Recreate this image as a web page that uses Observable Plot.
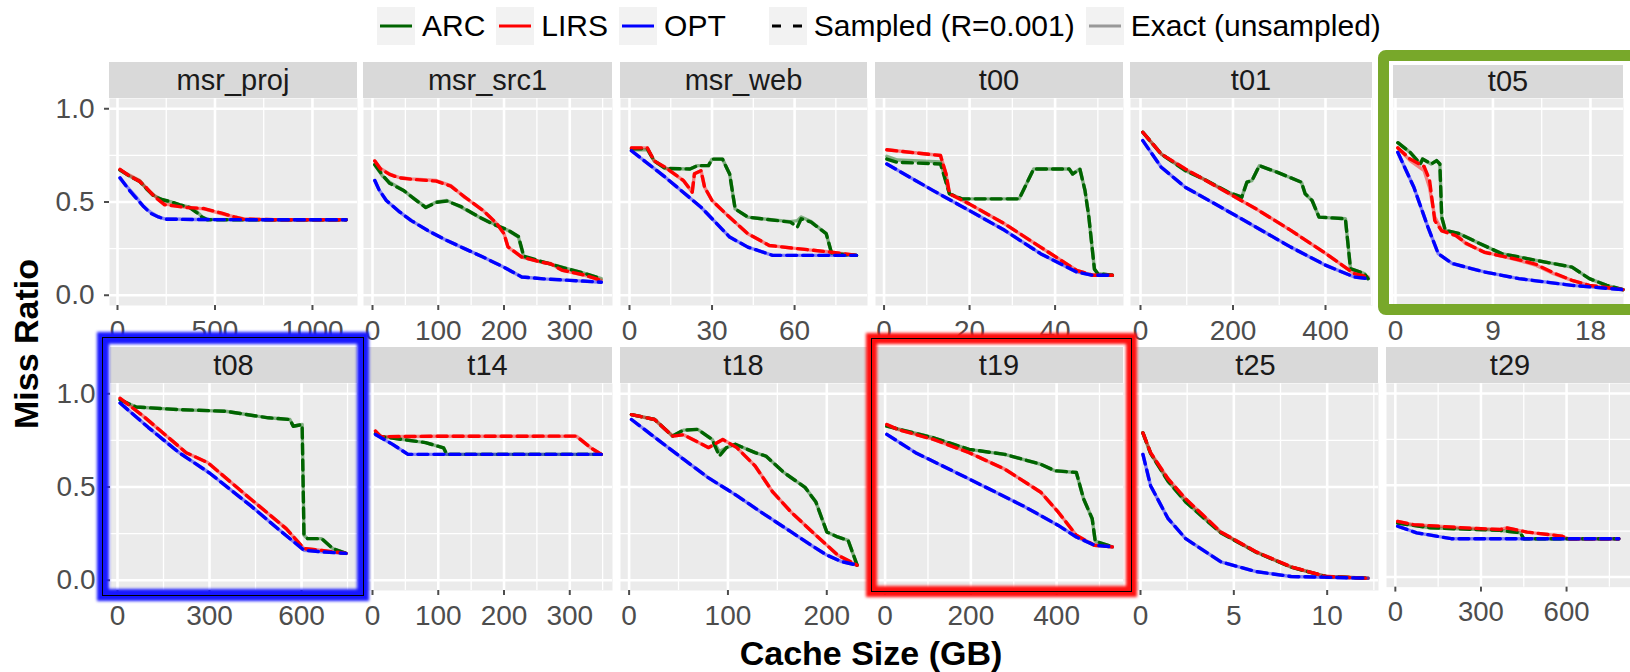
<!DOCTYPE html>
<html>
<head>
<meta charset="utf-8">
<script src="https://cdn.jsdelivr.net/npm/d3@7"></script>
<script src="https://cdn.jsdelivr.net/npm/@observablehq/plot@0.6"></script>
<style>
  html, body { margin: 0; padding: 0; background: #fff; }
  body { width: 1630px; height: 672px; overflow: hidden; position: relative;
         font-family: "Liberation Sans", Arial, Helvetica, sans-serif; }
  .abs { position: absolute; }
  .strip { position: absolute; background: #D9D9D9; color: #1a1a1a; font-size: 29px;
           display: flex; align-items: center; justify-content: center; line-height: 1; }
  .plotwrap { position: absolute; }
</style>
</head>
<body>
<script>
// ---------------- DATA ----------------
const panels = ["msr_proj","msr_src1","msr_web","t00","t01","t05","t08","t14","t18","t19","t25","t29"];
const algorithms = ["ARC","LIRS","OPT"];
const linetypes = ["Sampled (R=0.001)","Exact (unsampled)"];
const xTicks = [[0,500,1000],[0,100,200,300],[0,30,60],[0,20,40],[0,200,400],[0,9,18],
                [0,300,600],[0,100,200,300],[0,100,200],[0,200,400],[0,5,10],[0,300,600]];
const yTicks = [0, 0.5, 1.0];

// rows: [cache size GB, exact miss ratio, sampled miss ratio]
const msr_proj_ARC = [[13,0.67,0.672],[60,0.64,0.64],[114,0.612,0.61],[150,0.57,0.57],[188,0.535,0.53],[233,0.51,0.512],[278,0.50,0.50],[320,0.485,0.485],[370,0.472,0.47],[410,0.445,0.44],[435,0.42,0.418],[460,0.407,0.405],[800,0.405,0.405],[1173,0.405,0.405]];
const msr_proj_LIRS = [[13,0.672,0.675],[60,0.645,0.64],[114,0.615,0.61],[150,0.57,0.575],[188,0.535,0.53],[242,0.49,0.485],[300,0.48,0.478],[352,0.472,0.47],[444,0.463,0.465],[535,0.437,0.44],[600,0.42,0.42],[645,0.41,0.408],[800,0.405,0.405],[1173,0.405,0.405]];
const msr_proj_OPT = [[13,0.626,0.63],[55,0.575,0.57],[96,0.526,0.52],[130,0.48,0.48],[169,0.445,0.44],[210,0.42,0.42],[242,0.41,0.408],[400,0.406,0.406],[700,0.405,0.405],[1000,0.405,0.405],[1173,0.405,0.405]];

const msr_src1_ARC = [[3.5,0.70,0.70],[15,0.64,0.645],[26,0.606,0.60],[48,0.56,0.56],[64,0.517,0.515],[81,0.472,0.47],[97,0.50,0.498],[113,0.508,0.505],[135,0.472,0.475],[162,0.419,0.42],[184,0.383,0.38],[206,0.348,0.35],[222,0.312,0.315],[230,0.205,0.21],[256,0.18,0.182],[288,0.151,0.15],[320,0.12,0.12],[348,0.089,0.088]];
const msr_src1_LIRS = [[3.5,0.72,0.72],[12,0.68,0.678],[26,0.65,0.648],[40,0.632,0.63],[59,0.624,0.622],[97,0.615,0.612],[119,0.588,0.585],[140,0.526,0.528],[168,0.455,0.455],[189,0.383,0.385],[200,0.33,0.33],[206,0.258,0.26],[227,0.205,0.205],[256,0.178,0.178],[271,0.17,0.168],[288,0.134,0.135],[320,0.11,0.11],[348,0.08,0.08]];
const msr_src1_OPT = [[3.5,0.615,0.615],[10,0.565,0.565],[21,0.508,0.508],[40,0.45,0.45],[59,0.40,0.40],[85,0.345,0.345],[113,0.294,0.294],[140,0.25,0.25],[168,0.205,0.205],[200,0.15,0.15],[227,0.098,0.098],[260,0.088,0.088],[300,0.08,0.08],[348,0.07,0.07]];

const msr_web_ARC = [[0.7,0.78,0.785],[6.5,0.78,0.785],[9,0.72,0.72],[13,0.68,0.68],[22,0.677,0.677],[24.7,0.695,0.695],[28.7,0.695,0.695],[30,0.73,0.73],[33.8,0.73,0.73],[36.4,0.65,0.65],[38.4,0.463,0.463],[43,0.419,0.419],[48,0.41,0.41],[58.5,0.395,0.392],[61,0.40,0.365],[62.4,0.42,0.41],[66,0.395,0.392],[71.5,0.33,0.33],[73.5,0.223,0.223],[82.5,0.214,0.214]];
const msr_web_LIRS = [[0.7,0.79,0.79],[6.5,0.79,0.79],[9,0.72,0.72],[13,0.686,0.686],[19.6,0.615,0.615],[22.8,0.553,0.553],[23.6,0.651,0.651],[26,0.668,0.668],[27.3,0.579,0.579],[30,0.508,0.508],[35,0.437,0.437],[43,0.33,0.33],[50.8,0.267,0.267],[61,0.25,0.25],[72.7,0.232,0.232],[82.5,0.214,0.214]];
const msr_web_OPT = [[0.7,0.775,0.775],[13,0.633,0.633],[26,0.472,0.472],[36.4,0.312,0.312],[43,0.258,0.258],[52,0.214,0.214],[65,0.214,0.214],[82.5,0.214,0.214]];

const t00_ARC = [[0.65,0.745,0.73],[3.1,0.725,0.713],[13.2,0.715,0.704],[15.3,0.544,0.544],[18.2,0.517,0.517],[31.6,0.517,0.517],[33.3,0.597,0.597],[35,0.677,0.677],[43.3,0.677,0.677],[44.1,0.65,0.65],[45.8,0.677,0.677],[47,0.561,0.561],[47.9,0.419,0.419],[49.2,0.14,0.14],[50,0.116,0.116],[53.4,0.107,0.107]];
const t00_LIRS = [[0.65,0.78,0.78],[13.2,0.749,0.749],[14.5,0.65,0.65],[15.3,0.544,0.544],[19.9,0.49,0.49],[28.2,0.383,0.383],[36.6,0.258,0.258],[45,0.134,0.134],[48.8,0.107,0.107],[53.4,0.107,0.107]];
const t00_OPT = [[0.65,0.704,0.704],[11.5,0.561,0.561],[19.9,0.455,0.455],[28.2,0.348,0.348],[36.6,0.223,0.223],[45,0.125,0.125],[48.8,0.107,0.107],[53.4,0.107,0.107]];

const t01_ARC = [[5,0.874,0.874],[45,0.757,0.757],[97,0.668,0.668],[136,0.624,0.624],[189,0.553,0.553],[219,0.526,0.526],[230,0.606,0.606],[241,0.615,0.615],[257,0.695,0.695],[295,0.66,0.66],[348,0.606,0.606],[356,0.544,0.544],[371,0.508,0.508],[386,0.419,0.419],[443,0.41,0.41],[454,0.143,0.143],[484,0.116,0.116],[492,0.089,0.089]];
const t01_LIRS = [[5,0.874,0.874],[45,0.757,0.757],[97,0.677,0.677],[174,0.57,0.57],[250,0.463,0.463],[325,0.348,0.348],[401,0.223,0.223],[462,0.116,0.116],[492,0.098,0.098]];
const t01_OPT = [[5,0.829,0.829],[45,0.686,0.686],[97,0.579,0.579],[174,0.472,0.472],[250,0.365,0.365],[325,0.258,0.258],[401,0.16,0.16],[462,0.098,0.098],[492,0.089,0.089]];

const t05_ARC = [[0.22,0.818,0.818],[1.36,0.766,0.766],[2.3,0.704,0.704],[2.5,0.73,0.73],[3.3,0.704,0.704],[3.8,0.722,0.722],[4.1,0.704,0.704],[4.27,0.419,0.419],[4.6,0.348,0.348],[5.9,0.33,0.33],[7.5,0.285,0.285],[9.8,0.223,0.223],[13,0.187,0.187],[16.3,0.151,0.151],[17.9,0.089,0.089],[19.5,0.053,0.053],[21,0.03,0.03]];
const t05_LIRS = [[0.22,0.791,0.79],[1.36,0.722,0.73],[2.65,0.668,0.69],[3.14,0.579,0.62],[3.63,0.419,0.40],[4.27,0.348,0.345],[5.57,0.33,0.32],[6.5,0.276,0.28],[8.2,0.232,0.23],[11.4,0.187,0.19],[13,0.16,0.165],[14.6,0.116,0.12],[16.3,0.08,0.08],[17.9,0.053,0.053],[21,0.03,0.03]];
const t05_OPT = [[0.22,0.766,0.766],[1.7,0.579,0.579],[3,0.365,0.365],[3.95,0.223,0.223],[5.25,0.17,0.17],[8.2,0.125,0.125],[11.4,0.089,0.089],[16.3,0.053,0.053],[21,0.03,0.03]];

const t08_ARC = [[8.5,0.967,0.967],[61,0.929,0.929],[201,0.915,0.915],[352,0.906,0.906],[492,0.871,0.871],[562,0.862,0.862],[573,0.826,0.826],[602,0.835,0.835],[608,0.241,0.241],[620,0.223,0.223],[666,0.223,0.223],[702,0.17,0.17],[745,0.144,0.144]];
const t08_LIRS = [[8.5,0.976,0.976],[84,0.88,0.88],[224,0.684,0.684],[294,0.631,0.631],[434,0.436,0.436],[550,0.277,0.277],[608,0.17,0.17],[666,0.16,0.16],[745,0.144,0.144]];
const t08_OPT = [[8.5,0.95,0.95],[100,0.82,0.82],[201,0.684,0.684],[300,0.575,0.575],[434,0.40,0.40],[520,0.28,0.28],[608,0.161,0.161],[666,0.152,0.152],[745,0.144,0.144]];

const t14_ARC = [[4.6,0.787,0.787],[13.6,0.77,0.77],[80.7,0.738,0.738],[108,0.71,0.71],[113,0.675,0.675],[250,0.675,0.675],[348,0.675,0.675]];
const t14_LIRS = [[4.6,0.80,0.80],[12.7,0.77,0.77],[100,0.772,0.772],[200,0.772,0.772],[310,0.773,0.773],[332,0.71,0.71],[348,0.675,0.675]];
const t14_OPT = [[4.6,0.782,0.782],[30,0.73,0.73],[54,0.675,0.675],[150,0.675,0.675],[250,0.675,0.675],[348,0.675,0.675]];

const t18_ARC = [[2.4,0.888,0.888],[25.8,0.862,0.862],[44,0.773,0.773],[55,0.805,0.805],[69.5,0.809,0.809],[84,0.755,0.755],[91.3,0.69,0.666],[98.5,0.711,0.711],[107.5,0.729,0.729],[127.5,0.684,0.684],[138.4,0.666,0.666],[156.5,0.578,0.578],[178,0.498,0.498],[189,0.419,0.419],[200,0.259,0.259],[211,0.232,0.232],[221.6,0.214,0.214],[230.7,0.081,0.081]];
const t18_LIRS = [[2.4,0.888,0.888],[25.8,0.862,0.862],[44,0.773,0.773],[55,0.78,0.78],[80.5,0.711,0.711],[94.8,0.755,0.755],[109,0.711,0.711],[127.5,0.613,0.613],[145.5,0.472,0.472],[164,0.365,0.365],[189,0.241,0.241],[211,0.135,0.135],[230.7,0.081,0.081]];
const t18_OPT = [[2.4,0.862,0.862],[30,0.75,0.75],[55,0.649,0.649],[80,0.55,0.55],[109,0.454,0.454],[135,0.36,0.36],[164,0.259,0.259],[185,0.185,0.185],[200,0.135,0.135],[215,0.10,0.10],[230.7,0.081,0.081]];

const t19_ARC = [[4,0.826,0.826],[113,0.764,0.764],[196,0.702,0.702],[279,0.675,0.675],[363,0.622,0.622],[396,0.587,0.587],[446,0.578,0.578],[463,0.436,0.436],[483,0.33,0.33],[490,0.21,0.21],[530,0.179,0.179]];
const t19_LIRS = [[4,0.835,0.835],[29,0.809,0.809],[113,0.755,0.755],[196,0.684,0.684],[279,0.596,0.596],[363,0.472,0.472],[404,0.365,0.365],[446,0.241,0.241],[488,0.188,0.188],[530,0.179,0.179]];
const t19_OPT = [[4,0.782,0.782],[71,0.684,0.684],[196,0.543,0.543],[321,0.40,0.40],[404,0.294,0.294],[446,0.232,0.232],[488,0.188,0.188],[530,0.179,0.179]];

const t25_ARC = [[0.13,0.79,0.79],[0.54,0.68,0.68],[1.48,0.53,0.53],[2.42,0.42,0.42],[3.37,0.335,0.335],[4.3,0.255,0.255],[6.2,0.15,0.15],[8.07,0.07,0.07],[9.94,0.02,0.02],[12.2,0.011,0.011]];
const t25_LIRS = [[0.13,0.79,0.79],[0.54,0.684,0.684],[1.48,0.543,0.543],[2.42,0.436,0.436],[3.37,0.347,0.347],[4.3,0.259,0.259],[6.2,0.152,0.152],[8.07,0.072,0.072],[9.94,0.02,0.02],[12.2,0.011,0.011]];
const t25_OPT = [[0.13,0.675,0.675],[0.54,0.507,0.507],[1.48,0.33,0.33],[2.42,0.223,0.223],[4.3,0.099,0.099],[6.2,0.046,0.046],[8.07,0.02,0.02],[12.2,0.011,0.011]];

const t29_ARC = [[8,0.294,0.294],[123,0.268,0.268],[365,0.255,0.255],[438,0.241,0.241],[450,0.209,0.209],[783,0.209,0.209]];
const t29_LIRS = [[8,0.303,0.303],[63,0.286,0.286],[244,0.268,0.268],[365,0.259,0.259],[390,0.268,0.268],[462,0.245,0.245],[583,0.223,0.223],[607,0.209,0.209],[783,0.209,0.209]];
const t29_OPT = [[8,0.277,0.277],[75,0.241,0.241],[196,0.209,0.209],[783,0.209,0.209]];

// ---------------- ASSEMBLY ----------------
const seriesByPanel = {
  msr_proj: [msr_proj_ARC, msr_proj_LIRS, msr_proj_OPT],
  msr_src1: [msr_src1_ARC, msr_src1_LIRS, msr_src1_OPT],
  msr_web: [msr_web_ARC, msr_web_LIRS, msr_web_OPT],
  t00: [t00_ARC, t00_LIRS, t00_OPT],
  t01: [t01_ARC, t01_LIRS, t01_OPT],
  t05: [t05_ARC, t05_LIRS, t05_OPT],
  t08: [t08_ARC, t08_LIRS, t08_OPT],
  t14: [t14_ARC, t14_LIRS, t14_OPT],
  t18: [t18_ARC, t18_LIRS, t18_OPT],
  t19: [t19_ARC, t19_LIRS, t19_OPT],
  t25: [t25_ARC, t25_LIRS, t25_OPT],
  t29: [t29_ARC, t29_LIRS, t29_OPT]
};

// layout (style, not data)
const algColors = ["#006400", "#ff0000", "#0000ff"];
const boxes = [ // [left, width] of each panel
  [109,248],[363,249],[620,247],[875,248],[1130,242],[1393,230],
  [110,247],[363,249],[620,247],[875,248],[1133,245],[1386,248]
];
const xDomains = [
  [-41,1231],[-13.7,365],[-3.27,86.5],[-2,56],[-21.6,501.6],[-0.18,21.05],
  [-22.8,782.5],[-13.7,365],[-8.7,241.2],[-22.4,556],[-0.375,12.75],[-31,824]
];
const rowTop = [98, 383];
const stripTop = [62, 347];
const panelH = 207;
const fontFam = '"Liberation Sans", Arial, Helvetica, sans-serif';

function minorTicks(major, dom) {
  const step = major[1] - major[0];
  const ext = [major[0] - step, ...major, major[major.length - 1] + step];
  const out = [];
  for (let k = 0; k < ext.length - 1; k++) out.push((ext[k] + ext[k + 1]) / 2);
  return out.filter(v => v > dom[0] && v < dom[1]);
}

panels.forEach((name, i) => {
  const row = i < 6 ? 0 : 1;
  const col = i % 6;
  const [left, width] = boxes[i];
  const dom = xDomains[i];
  const rows = [];
  seriesByPanel[name].forEach((arr, a) => {
    for (const [x, e, s] of arr) {
      rows.push({alg: algorithms[a], kind: "Exact", x, y: e});
      rows.push({alg: algorithms[a], kind: "Sampled", x, y: s});
    }
  });
  const major = xTicks[i];
  const minor = minorTicks(major, dom);
  const mL = col === 0 ? 110 : 0;
  const mB = 50;
  const marks = [
    Plot.frame({fill: "#EBEBEB", stroke: null}),
    Plot.gridY([0.25, 0.75], {stroke: "white", strokeOpacity: 1, strokeWidth: 1.3}),
    Plot.gridY(yTicks, {stroke: "white", strokeOpacity: 1, strokeWidth: 2.6}),
    Plot.gridX(minor, {stroke: "white", strokeOpacity: 1, strokeWidth: 1.3}),
    Plot.gridX(major, {stroke: "white", strokeOpacity: 1, strokeWidth: 2.6}),
    Plot.line(rows.filter(d => d.kind === "Exact"), {x: "x", y: "y", z: "alg", stroke: "alg", strokeOpacity: 0.45, strokeWidth: 3.4}),
    Plot.line(rows.filter(d => d.kind === "Sampled"), {x: "x", y: "y", z: "alg", stroke: "alg", strokeWidth: 3.4, strokeDasharray: "10,6"}),
    Plot.axisX(major, {tickSize: 5, tickPadding: 10, fontSize: 28, color: "#4d4d4d", strokeWidth: 2, label: null,
      tickFormat: d => String(d)})
  ];
  if (col === 0) {
    marks.push(Plot.axisY(yTicks, {tickSize: 5, tickPadding: 10, fontSize: 28, color: "#4d4d4d", strokeWidth: 2,
      tickFormat: d3.format(".1f"), label: null}));
  }
  const chart = Plot.plot({
    width: width + mL, height: panelH + mB,
    marginLeft: mL, marginRight: 0, marginTop: 0, marginBottom: mB,
    style: {background: "transparent", overflow: "visible", fontFamily: fontFam},
    x: {domain: dom, label: null},
    y: {domain: [-0.055, 1.055], label: null, axis: col === 0 ? undefined : null},
    color: {domain: algorithms, range: algColors},
    marks
  });
  const wrap = document.createElement("div");
  wrap.className = "plotwrap";
  wrap.style.left = (left - mL) + "px";
  wrap.style.top = rowTop[row] + "px";
  wrap.appendChild(chart);
  document.body.appendChild(wrap);

  const strip = document.createElement("div");
  strip.className = "strip";
  strip.style.left = left + "px";
  strip.style.width = width + "px";
  const st = (i === 5) ? stripTop[row] + 3 : stripTop[row];
  strip.style.top = st + "px";
  strip.style.height = (rowTop[row] - st) + "px";
  strip.textContent = name;
  document.body.appendChild(strip);
});

// ---------------- LEGEND ----------------
const legend = document.createElement("div");
legend.className = "abs";
legend.style.cssText = "position:absolute;left:377px;top:7px;height:38px;display:flex;align-items:center;font-size:30px;color:#000;";
function keyBox(stroke, dash) {
  const ns = "http://www.w3.org/2000/svg";
  const svg = document.createElementNS(ns, "svg");
  svg.setAttribute("width", 38); svg.setAttribute("height", 38);
  svg.style.background = "#F2F2F2"; svg.style.display = "block"; svg.style.flex = "none";
  const ln = document.createElementNS(ns, "line");
  ln.setAttribute("x1", 3); ln.setAttribute("x2", 35); ln.setAttribute("y1", 19); ln.setAttribute("y2", 19);
  ln.setAttribute("stroke", stroke); ln.setAttribute("stroke-width", 3);
  if (dash) ln.setAttribute("stroke-dasharray", dash);
  svg.appendChild(ln);
  return svg;
}
function legendItem(label, stroke, dash, gapAfter) {
  legend.appendChild(keyBox(stroke, dash));
  const t = document.createElement("span");
  t.textContent = label;
  t.style.marginLeft = "7px";
  t.style.marginRight = gapAfter + "px";
  t.style.whiteSpace = "pre";
  legend.appendChild(t);
}
algorithms.forEach((a, k) => legendItem(a, algColors[k], null, k === 2 ? 43 : 11));
legendItem(linetypes[0], "#000", "9,12", 11);
legendItem(linetypes[1], "#999999", null, 0);
document.body.appendChild(legend);

// ---------------- AXIS TITLES ----------------
const xt = document.createElement("div");
xt.textContent = "Cache Size (GB)";
xt.style.cssText = "position:absolute;left:871px;top:653px;transform:translate(-50%,-50%);font-weight:bold;font-size:34px;white-space:nowrap;color:#000;";
document.body.appendChild(xt);
const yt = document.createElement("div");
yt.textContent = "Miss Ratio";
yt.style.cssText = "position:absolute;left:26px;top:344px;transform:translate(-50%,-50%) rotate(-90deg);font-weight:bold;font-size:34px;white-space:nowrap;color:#000;";
document.body.appendChild(yt);

// ---------------- HIGHLIGHT FRAMES ----------------
function frameDiv(css) {
  const d = document.createElement("div");
  d.style.cssText = "position:absolute;box-sizing:border-box;pointer-events:none;" + css;
  document.body.appendChild(d);
}
// green frame around t05
frameDiv("left:1378px;top:50px;width:300px;height:265px;border:11px solid #78A82A;border-radius:8px;");
// blue glowing frame around t08
frameDiv("left:97px;top:332px;width:272px;height:269px;border:12px solid #1818ff;filter:blur(1.6px);");
frameDiv("left:102px;top:337px;width:262px;height:259px;border:1.6px solid #000;");
// red glowing frame around t19
frameDiv("left:866px;top:333px;width:271px;height:264px;border:11px solid #ff1010;filter:blur(1.6px);");
frameDiv("left:871px;top:338px;width:261px;height:254px;border:1.6px solid #000;");
</script>
</body>
</html>
